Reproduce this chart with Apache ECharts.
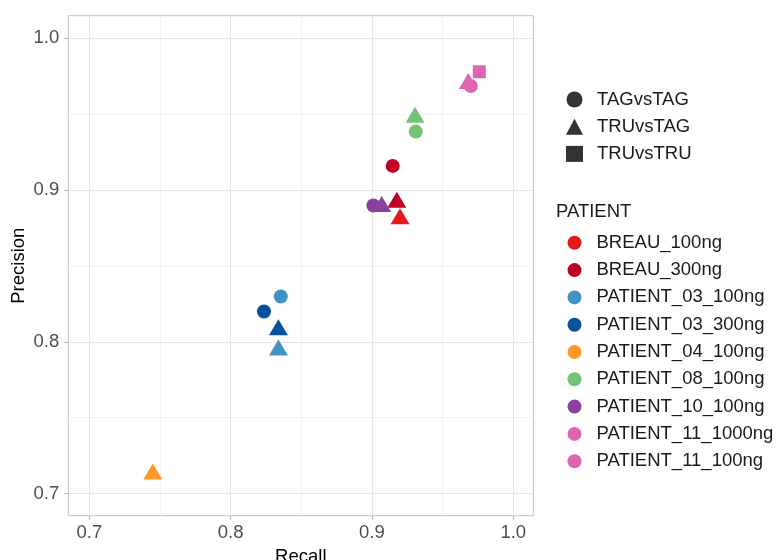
<!DOCTYPE html>
<html><head><meta charset="utf-8">
<script src="https://cdn.jsdelivr.net/npm/echarts@6/dist/echarts.min.js"></script>
<style>html,body{margin:0;padding:0;background:#fff}#c{width:779px;height:560px}</style>
</head><body><div id="c"></div>
<script>
const patients = ['BREAU_100ng','BREAU_300ng','PATIENT_03_100ng','PATIENT_03_300ng','PATIENT_04_100ng','PATIENT_08_100ng','PATIENT_10_100ng','PATIENT_11_1000ng','PATIENT_11_100ng'];
const patientColors = ['#E31A1C','#BD0026','#4292C6','#08519C','#FE9929','#74C476','#88419D','#DF65B0','#DF65B0'];
const comparisons = ['TAGvsTAG','TRUvsTAG','TRUvsTRU'];

const pointPatient = ['BREAU_100ng','BREAU_300ng','BREAU_300ng','PATIENT_03_100ng','PATIENT_03_100ng','PATIENT_03_300ng','PATIENT_03_300ng','PATIENT_04_100ng','PATIENT_08_100ng','PATIENT_08_100ng','PATIENT_10_100ng','PATIENT_10_100ng','PATIENT_11_1000ng','PATIENT_11_1000ng','PATIENT_11_100ng'];
const pointComparison = ['TRUvsTAG','TAGvsTAG','TRUvsTAG','TAGvsTAG','TRUvsTAG','TAGvsTAG','TRUvsTAG','TRUvsTAG','TAGvsTAG','TRUvsTAG','TAGvsTAG','TRUvsTAG','TAGvsTAG','TRUvsTAG','TRUvsTRU'];
const recall =    [0.9199,0.9147,0.9176,0.8355,0.8338,0.8236,0.8338,0.7449,0.9310,0.9305,0.9010,0.9069,0.9700,0.9682,0.9760];
const precision = [0.8809,0.9158,0.8918,0.8298,0.7945,0.8199,0.8078,0.7129,0.9384,0.9477,0.8897,0.8889,0.9684,0.9700,0.9778];

const xTicks = [0.7,0.8,0.9,1.0];
const yTicks = [0.7,0.8,0.9,1.0];
const minorTicks = [0.75,0.85,0.95];

const FONT = "'Liberation Sans', Arial, sans-serif";
const FS = 18.5;
const shapeStyle = {
  TAGvsTAG: {symbol:'circle', symbolSize:14, symbolOffset:[0,0]},
  TRUvsTAG: {symbol:'triangle', symbolSize:[19,16], symbolOffset:[0,-2.7]},
  TRUvsTRU: {symbol:'rect', symbolSize:13, symbolOffset:[0,0]}
};

const series = [];
// grid lines drawn through the axes' scales
series.push({
  type:'scatter', name:'_grid', data:[], silent:true, z:1,
  markLine:{silent:true, animation:false, symbol:['none','none'], label:{show:false},
    lineStyle:{color:'#f3f3f3', width:1, type:'solid'},
    emphasis:{disabled:true},
    data:[...minorTicks.map(v=>({xAxis:v})), ...minorTicks.map(v=>({yAxis:v}))]}
});
series.push({
  type:'scatter', name:'_grid2', data:[], silent:true, z:1,
  markLine:{silent:true, animation:false, symbol:['none','none'], label:{show:false},
    lineStyle:{color:'#e6e6e6', width:1, type:'solid'},
    emphasis:{disabled:true},
    data:[...xTicks.map(v=>({xAxis:v})), ...yTicks.map(v=>({yAxis:v}))]}
});
patients.forEach((p,pi)=>{
  const data = [];
  pointPatient.forEach((pp,i)=>{
    if(pp!==p) return;
    const s = shapeStyle[pointComparison[i]];
    data.push({value:[recall[i],precision[i]], symbol:s.symbol, symbolSize:s.symbolSize, symbolOffset:s.symbolOffset});
  });
  series.push({type:'scatter', name:p, data:data, z:10, itemStyle:{color:patientColors[pi], opacity:1}, emphasis:{disabled:true}});
});
comparisons.forEach(c=>{
  series.push({type:'scatter', name:c, data:[], symbol:shapeStyle[c].symbol, itemStyle:{color:'#000'}});
});

const chart = echarts.init(document.getElementById('c'), null, {renderer:'canvas'});
chart.setOption({
  animation:false,
  backgroundColor:'#fff',
  textStyle:{fontFamily:FONT},
  title:{text:'PATIENT', left:556, top:202.5, padding:0, textStyle:{fontSize:FS, fontWeight:'normal', color:'#1a1a1a', fontFamily:FONT}},
  grid:{left:68.3, right:245.7, top:15.7, bottom:44.3, show:true, borderColor:'#c4c4c4', borderWidth:1, backgroundColor:'#fff', outerBoundsMode:'none'},
  xAxis:{type:'value', min:0.6851, max:1.0142,
    splitLine:{show:false}, axisLine:{show:false},
    axisTick:{show:true, length:4, lineStyle:{color:'#b3b3b3'}, customValues:xTicks},
    axisLabel:{customValues:xTicks, formatter:v=>v.toFixed(1), fontSize:FS, color:'#4d4d4d', margin:8, fontFamily:FONT},
    name:'Recall', nameLocation:'middle', nameGap:32, nameMoveOverlap:false, nameTextStyle:{fontSize:FS, color:'#000', fontFamily:FONT}},
  yAxis:{type:'value', min:0.6855, max:1.0147,
    splitLine:{show:false}, axisLine:{show:false},
    axisTick:{show:true, length:4, lineStyle:{color:'#b3b3b3'}, customValues:yTicks},
    axisLabel:{customValues:yTicks, formatter:v=>v.toFixed(1), fontSize:FS, color:'#4d4d4d', margin:9, fontFamily:FONT},
    name:'Precision', nameLocation:'middle', nameRotate:90, nameGap:40, nameMoveOverlap:false, nameTextStyle:{fontSize:FS, color:'#000', fontFamily:FONT}},
  legend:[
    {orient:'vertical', left:566, top:90, padding:0, itemWidth:17, itemHeight:16, itemGap:8.2, selectedMode:false,
     textStyle:{fontSize:FS, color:'#1a1a1a', fontFamily:FONT, padding:[0,0,0,9]},
     data:[{name:'TAGvsTAG', icon:'circle'},{name:'TRUvsTAG', icon:'triangle'},{name:'TRUvsTRU', icon:'rect'}]},
    {orient:'vertical', left:567.5, top:233.3, padding:0, itemWidth:14, itemHeight:14, itemGap:8.3, selectedMode:false, icon:'circle',
     textStyle:{fontSize:FS, color:'#1a1a1a', fontFamily:FONT, padding:[0,0,0,10]},
     data:patients}
  ],
  series:series
});
</script></body></html>
